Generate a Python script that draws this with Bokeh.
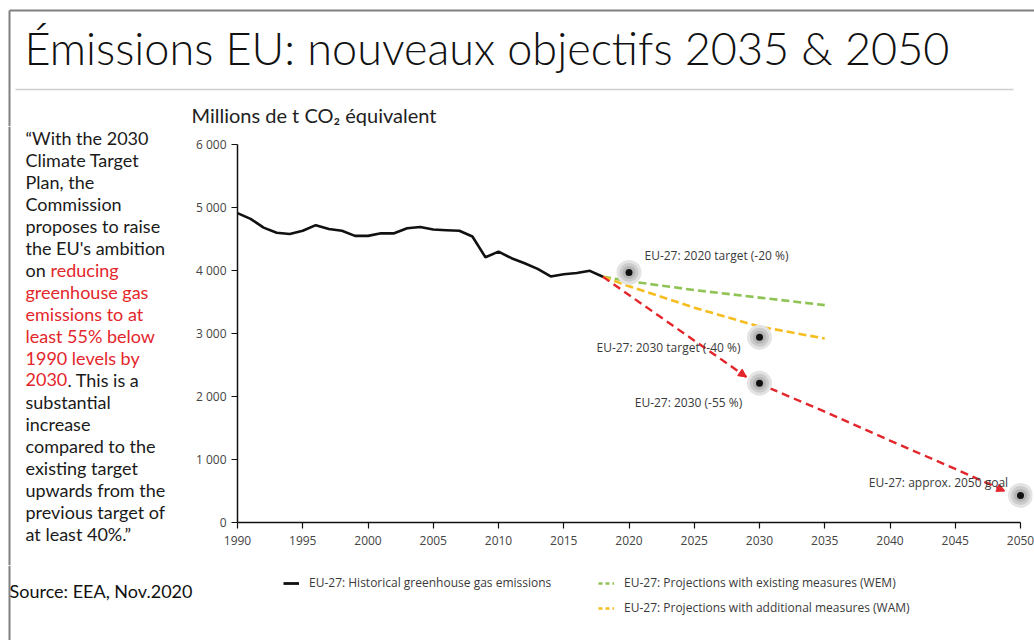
from bokeh.plotting import figure
from bokeh.layouts import column, row
from bokeh.models import (Range1d, FixedTicker, Label, Arrow, NormalHead,
                          Legend, LegendItem)
from bokeh.embed import file_html
from bokeh.resources import INLINE

# ---------------- data ----------------
hist_years = list(range(1990, 2019))
hist_values = [4910, 4820, 4680, 4600, 4580, 4630, 4720, 4660, 4630, 4550,
               4550, 4590, 4590, 4670, 4690, 4650, 4640, 4630, 4540, 4210,
               4300, 4195, 4115, 4025, 3905, 3940, 3960, 3995, 3900]

wem_years = [2018, 2020, 2025, 2030, 2035]
wem_values = [3900, 3830, 3690, 3570, 3450]

wam_years = [2018, 2020, 2025, 2030, 2035]
wam_values = [3900, 3750, 3410, 3110, 2920]

path55_years = [2018, 2029]
path55_values = [3900, 2310]
path2050_years = [2030.8, 2035, 2040, 2045, 2048.8]
path2050_values = [2130, 1760, 1300, 850, 500]

target_years = [2020, 2030, 2030, 2050]
target_values = [3970, 2940, 2210, 430]
target_labels = ["EU-27: 2020 target (-20 %)", "EU-27: 2030 target (-40 %)",
                 "EU-27: 2030 (-55 %)", "EU-27: approx. 2050 goal"]

x_ticks = list(range(1990, 2051, 5))
y_ticks = [0, 1000, 2000, 3000, 4000, 5000, 6000]
y_tick_labels = ["0", "1 000", "2 000", "3 000", "4 000", "5 000", "6 000"]

legend_labels = ["EU-27: Historical greenhouse gas emissions",
                 "EU-27: Projections with existing measures (WEM)",
                 "EU-27: Projections with additional measures (WAM)"]

title_text = "Émissions EU: nouveaux objectifs 2035 & 2050"
yaxis_title = "Millions de t CO₂ équivalent"
source_text = "Source: EEA, Nov.2020"

BLACK = "#1a1a1a"
RED = "#e3262b"
HIST_C, WEM_C, WAM_C = "#111111", "#8fc455", "#f5bd1f"
quote_lines = [
    [("“With the 2030", BLACK)],
    [("Climate Target", BLACK)],
    [("Plan, the", BLACK)],
    [("Commission", BLACK)],
    [("proposes to raise", BLACK)],
    [("the EU's ambition", BLACK)],
    [("on ", BLACK), ("reducing", RED)],
    [("greenhouse gas", RED)],
    [("emissions to at", RED)],
    [("least 55% below", RED)],
    [("1990 levels by", RED)],
    [("2030", RED), (". This is a", BLACK)],
    [("substantial", BLACK)],
    [("increase", BLACK)],
    [("compared to the", BLACK)],
    [("existing target", BLACK)],
    [("upwards from the", BLACK)],
    [("previous target of", BLACK)],
    [("at least 40%.”", BLACK)],
]

# ---------------- page geometry (canvas pixels) ----------------
W, H = 1034, 640
HEAD_H = 126           # header strip bottom
MID_B = 565            # chart strip bottom
LEFT_W = 190           # quote column width
FL, FR = 237, 1032     # chart frame left/right (page px)
FT, FB = 144, 522      # frame top, y=0 line (page px)
PXY = (1020 - FL) / 60.0      # px per year
PYU = (FB - FT) / 6000.0      # px per unit


def X(xc):
    return 1990 + (xc - FL) / PXY


def Y(yc):
    return (FB - yc) / PYU


def decor_fig(x0, y0, w, h):
    # a plain drawing area whose data coordinates are page pixels
    f = figure(width=w, height=h, output_backend="svg", toolbar_location=None,
               x_range=Range1d(x0, x0 + w), y_range=Range1d(y0 + h, y0),
               x_axis_type=None, y_axis_type=None, frame_align=False,
               min_border_left=0, min_border_right=0,
               min_border_top=0, min_border_bottom=0)
    f.outline_line_color = None
    f.grid.visible = False
    f.background_fill_color = "white"
    f.border_fill_color = "white"
    return f


def text(fig, x, y, s, size, color, font="Lato"):
    fig.add_layout(Label(x=x, y=y, text=s, text_font=font,
                         text_font_size=size, text_color=color,
                         text_baseline="middle"))


# ---------------- header ----------------
head = decor_fig(0, 0, W, HEAD_H)
head.line([9, W], [10, 10], line_color="#808080", line_width=2)
head.line([9, 9], [10, HEAD_H], line_color="#808080", line_width=2)
head.line([15, 1013], [89, 89], line_color="#cfcfcf", line_width=1.5)
text(head, 24, 47, title_text, "45px", "#111111", font="Lato Light, Lato")
text(head, 191, 114, yaxis_title, "20px", "#222222")

# ---------------- left quote column ----------------
left = decor_fig(0, HEAD_H, LEFT_W, MID_B - HEAD_H)
left.line([9, 9], [HEAD_H, MID_B], line_color="#808080", line_width=2)
seg_x = {(6, 1): 50, (11, 1): 67}
for i, line in enumerate(quote_lines):
    mid = 137 + 22 * i
    for j, (txt, col) in enumerate(line):
        xc = 25 if j == 0 else seg_x[(i, j)]
        text(left, xc, mid, txt, "18px", col)

# ---------------- chart ----------------
CW, CH = W - LEFT_W, MID_B - HEAD_H
p = figure(width=CW, height=CH, output_backend="svg", toolbar_location=None,
           x_range=Range1d(X(FL), X(FR)), y_range=Range1d(0, 6000),
           frame_align=False,
           min_border_left=FL - LEFT_W, min_border_right=W - FR,
           min_border_top=FT - HEAD_H, min_border_bottom=MID_B - FB)
p.outline_line_color = None
p.grid.visible = False
p.background_fill_color = "white"
p.border_fill_color = "white"

for ax in (p.xaxis[0], p.yaxis[0]):
    ax.axis_line_color = "#111111"
    ax.axis_line_width = 1.5
    ax.major_tick_line_color = "#111111"
    ax.major_tick_line_width = 1.2
    ax.major_tick_out = 6
    ax.major_tick_in = 0
    ax.minor_tick_line_color = None
    ax.major_label_text_font = "Open Sans"
    ax.major_label_text_font_size = "12px"
    ax.major_label_text_color = "#444444"

p.xaxis.ticker = FixedTicker(ticks=x_ticks)
p.xaxis.bounds = (1990, 2050)
p.xaxis.major_label_standoff = 7
p.yaxis.ticker = FixedTicker(ticks=y_ticks)
p.yaxis.bounds = (0, 6000)
p.yaxis.major_label_overrides = {t: l for t, l in zip(y_ticks, y_tick_labels)}
p.yaxis.major_label_standoff = 5

p.line(wem_years, wem_values, line_color=WEM_C, line_width=2.6, line_dash="8 4")
p.line(wam_years, wam_values, line_color=WAM_C, line_width=2.6, line_dash="8 4")
p.line(path55_years, path55_values, line_color=RED, line_width=2.4,
       line_dash="8 5")
p.line(path2050_years, path2050_values, line_color=RED, line_width=2.4,
       line_dash="8 5")
for yrs, vals in ((path55_years, path55_values), (path2050_years, path2050_values)):
    p.add_layout(Arrow(end=NormalHead(size=8, fill_color=RED, line_color=RED),
                       x_start=yrs[-2] + 0.9 * (yrs[-1] - yrs[-2]),
                       y_start=vals[-2] + 0.9 * (vals[-1] - vals[-2]),
                       x_end=yrs[-1], y_end=vals[-1], line_alpha=0))
p.line(hist_years, hist_values, line_color=HIST_C, line_width=2.6)

p.scatter(target_years, target_values, size=25, fill_color="#e3e3e3", line_color=None)
p.scatter(target_years, target_values, size=19, fill_color="#cbcbcb", line_color=None)
p.scatter(target_years, target_values, size=13, fill_color="#b5b5b5", line_color=None)
p.scatter(target_years, target_values, size=7, fill_color="#111111", line_color=None)

label_pos = [(716, 255), (668, 347), (688, 402), (938, 482)]
for txt, (cx, cy) in zip(target_labels, label_pos):
    p.add_layout(Label(x=X(cx), y=Y(cy), text=txt, text_font="Open Sans",
                       text_font_size="12px", text_color="#3a3a3a",
                       text_align="center", text_baseline="middle"))

# ---------------- bottom strip: source + legend ----------------
bot = decor_fig(0, MID_B, W, H - MID_B)
bot.line([9, 9], [MID_B, H], line_color="#808080", line_width=2)
text(bot, 9, 590, source_text, "18px", "#111111")
# legend keys: the series restyled here; their data lie outside this strip's view
k_hist = bot.line(hist_years, hist_values, line_color=HIST_C, line_width=2.8)
k_blank = bot.line(hist_years, hist_values, line_alpha=0)
k_wem = bot.line(wem_years, wem_values, line_color=WEM_C, line_width=2.6,
                 line_dash="4 3")
k_wam = bot.line(wam_years, wam_values, line_color=WAM_C, line_width=2.6,
                 line_dash="4 3")
legend = Legend(items=[LegendItem(label=legend_labels[0], renderers=[k_hist]),
                       LegendItem(label=" ", renderers=[k_blank]),
                       LegendItem(label=legend_labels[1], renderers=[k_wem]),
                       LegendItem(label=legend_labels[2], renderers=[k_wam])],
                ncols=2, location=(283, H - 616), border_line_color=None,
                background_fill_alpha=0, padding=0, margin=0, spacing=8,
                label_text_font="Open Sans", label_text_font_size="12px",
                label_text_color="#3a3a3a", glyph_height=14, label_height=14,
                glyph_width=16, label_standoff=10, label_width=281)
bot.add_layout(legend)

layout = column(head, row(left, p, spacing=0), bot, spacing=0)
open("out.html", "w").write(file_html(layout, INLINE))
